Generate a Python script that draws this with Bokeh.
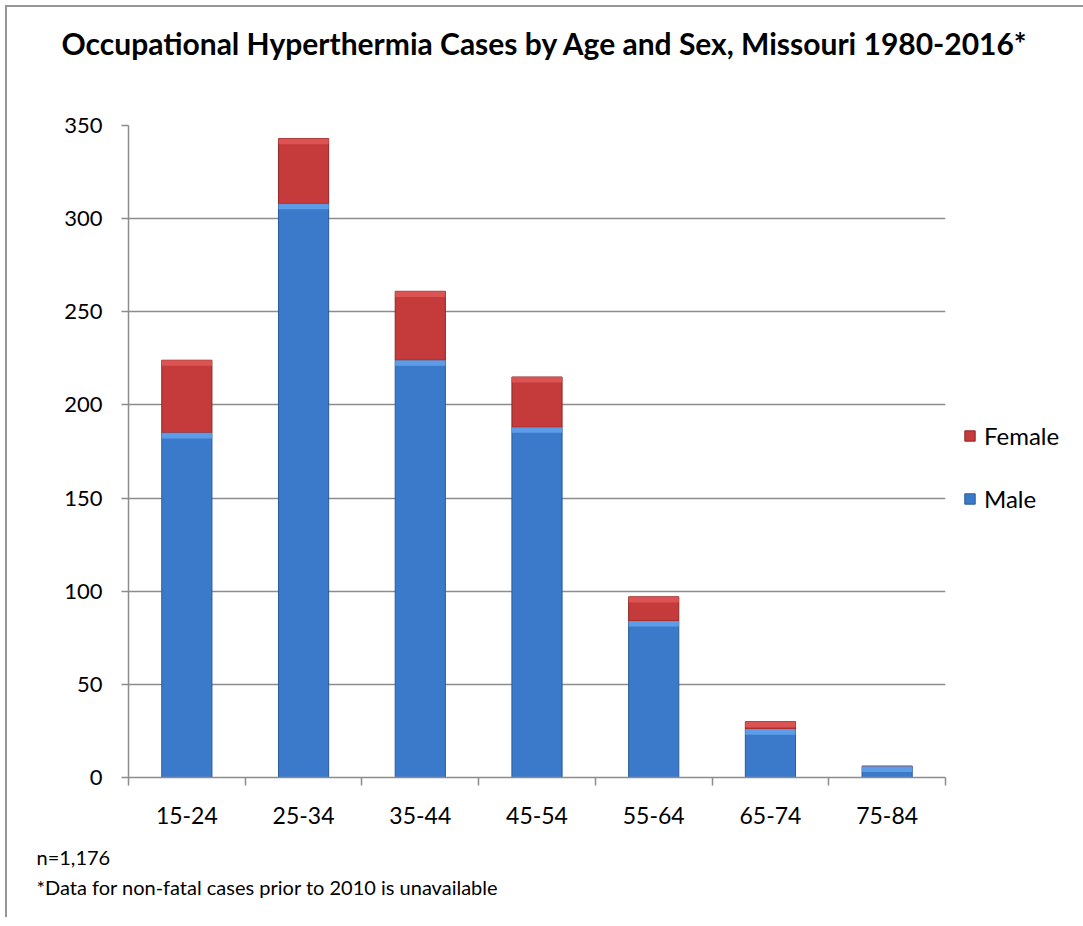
from bokeh.plotting import figure
from bokeh.models import (ColumnDataSource, Range1d, FixedTicker, Title, Legend, LegendItem)
from bokeh.embed import file_html
from bokeh.resources import INLINE

# ---- data ----
age_groups = ["15-24", "25-34", "35-44", "45-54", "55-64", "65-74", "75-84"]
male = [185, 308, 224, 188, 84, 26, 6]
female = [39, 35, 37, 27, 13, 4, 0]
y_ticks = [0, 50, 100, 150, 200, 250, 300, 350]
title_text = "Occupational Hyperthermia Cases by Age and Sex, Missouri 1980-2016*"
note_lines = ["n=1,176", "*Data for non-fatal cases prior to 2010 is unavailable"]

FONT = "Lato"
GRID = "#8c8c8c"
BAND = 3.0  # height of the light bevel band on top of each segment (data units)

xpos = [i + 0.5 for i in range(len(age_groups))]
totals = [m + f for m, f in zip(male, female)]
src = ColumnDataSource(dict(
    x=xpos, male=male, female=female,
    m_top=male, m_band=[max(m - BAND, 0) for m in male],
    f_top=totals, f_band=[t - min(BAND, f) for t, f in zip(totals, female)]))

p = figure(frame_width=817, frame_height=652, output_backend="svg", toolbar_location=None,
           x_range=Range1d(0, len(age_groups)), y_range=Range1d(0, 350),
           min_border_left=121, min_border_right=132, min_border_top=118,
           min_border_bottom=140, title=None)
p.margin = (5, 0, 0, 5)
p.styles = {"border-top": "2px solid #969696", "border-left": "2px solid #969696"}
p.outline_line_color = None
p.background_fill_color = "white"
p.border_fill_color = "white"

renderers = p.vbar_stack(["male", "female"], x="x", width=0.43, source=src,
                         fill_color=["#3b7acb", "#c53a3a"],
                         line_color=["#2a5a98", "#8f2727"], line_width=1)
r_male, r_female = renderers

# light bevel band at top of each segment
p.vbar(x="x", top="m_top", bottom="m_band", width=0.43, source=src,
       fill_color="#62a0ea", line_color=None, fill_alpha=0.9)
p.vbar(x="x", top="f_top", bottom="f_band", width=0.43, source=src,
       fill_color="#de5656", line_color=None, fill_alpha=0.9)

# axes
p.xgrid.visible = False
p.ygrid.ticker = FixedTicker(ticks=y_ticks)
p.ygrid.grid_line_color = GRID
p.ygrid.grid_line_width = 1.5

xa = p.xaxis[0]
xa.ticker = FixedTicker(ticks=xpos, minor_ticks=list(range(len(age_groups) + 1)))
xa.major_label_overrides = {x: lab for x, lab in zip(xpos, age_groups)}
xa.major_tick_out = 0
xa.major_tick_in = 0
xa.minor_tick_out = 8
xa.minor_tick_in = 0
xa.minor_tick_line_color = GRID
xa.minor_tick_line_width = 1.5
xa.axis_line_color = GRID
xa.axis_line_width = 1.5
xa.major_label_text_font = FONT
xa.major_label_text_font_size = "23px"
xa.major_label_text_color = "black"
xa.major_label_standoff = 21

ya = p.yaxis[0]
ya.ticker = FixedTicker(ticks=y_ticks)
ya.major_tick_out = 7
ya.major_tick_in = 0
ya.minor_tick_out = 0
ya.minor_tick_in = 0
ya.major_tick_line_color = GRID
ya.major_tick_line_width = 1.5
ya.axis_line_color = GRID
ya.axis_line_width = 1.5
ya.major_label_text_font = FONT
ya.major_label_text_font_size = "22px"
ya.major_label_text_color = "black"
ya.major_label_standoff = 19

# legend (right panel)
legend = Legend(items=[LegendItem(label="Female", renderers=[r_female]),
                       LegendItem(label="Male", renderers=[r_male])],
                location=(18, 264), padding=0, margin=0, spacing=34,
                glyph_width=13, glyph_height=13, label_height=20,
                label_standoff=8, border_line_color=None,
                background_fill_alpha=0,
                label_text_font=FONT, label_text_font_size="24px",
                label_text_color="black")
p.add_layout(legend, "right")

# spacer between frame and title (keeps the title near the top edge)
p.add_layout(Title(text=" ", standoff=51, text_font=FONT, text_font_size="10px"), "above")
# title
p.add_layout(Title(text=title_text, align="left", offset=-67, standoff=0,
                   text_font=FONT, text_font_size="30px", text_font_style="bold",
                   text_color="black"), "above")
# notes (two lines)
p.add_layout(Title(text="\n".join(note_lines), align="left", offset=-92, standoff=32,
                   text_font=FONT, text_font_size="20px", text_font_style="normal",
                   text_line_height=1.25, text_color="black"), "below")

open("out.html", "w").write(file_html(p, INLINE))
